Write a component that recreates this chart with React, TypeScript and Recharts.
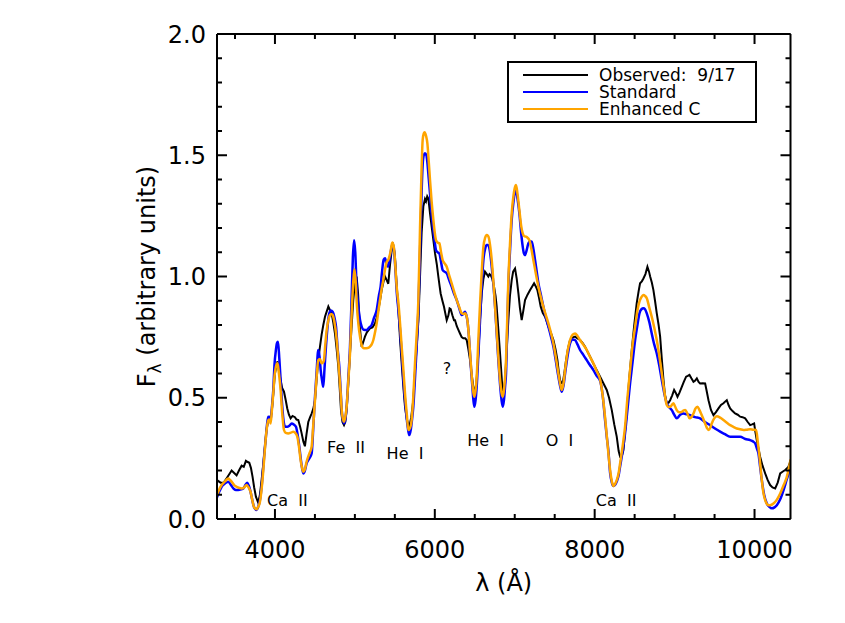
import React from 'react';
import { LineChart, Line, XAxis, YAxis, ReferenceDot, Legend } from 'recharts';

// Observed spectrum (9/17): [wavelength Å, flux]
const observed: [number, number][] = [
  [3275,0.16],[3320,0.15],[3360,0.15],[3400,0.17],[3458,0.20],[3490,0.19],[3520,0.18],[3550,0.20],[3583,0.22],[3610,0.215],
  [3637,0.24],[3660,0.235],[3679,0.232],[3700,0.21],[3720,0.174],[3740,0.13],[3762,0.092],[3791,0.067],[3812,0.10],[3833,0.16],
  [3855,0.23],[3875,0.30],[3895,0.37],[3917,0.408],[3940,0.42],[3958,0.435],[3980,0.52],[4000,0.60],[4020,0.635],[4033,0.65],
  [4050,0.61],[4071,0.573],[4090,0.54],[4113,0.525],[4135,0.49],[4154,0.456],[4175,0.43],[4196,0.415],[4220,0.425],[4250,0.42],
  [4270,0.41],[4292,0.408],[4315,0.38],[4334,0.353],[4355,0.32],[4375,0.30],[4395,0.35],[4417,0.40],[4440,0.42],[4459,0.435],
  [4480,0.455],[4501,0.49],[4520,0.57],[4542,0.655],[4563,0.71],[4584,0.76],[4605,0.80],[4626,0.834],[4647,0.855],[4668,0.876],
  [4690,0.86],[4709,0.848],[4730,0.81],[4751,0.765],[4772,0.70],[4793,0.628],[4810,0.54],[4826,0.45],[4845,0.40],[4864,0.387],
  [4880,0.40],[4897,0.45],[4918,0.56],[4939,0.683],[4960,0.80],[4980,0.903],[5000,0.97],[5022,1.0],[5040,0.93],[5060,0.80],
  [5085,0.71],[5105,0.73],[5126,0.752],[5150,0.77],[5189,0.786],[5220,0.79],[5252,0.807],[5273,0.83],[5293,0.862],[5314,0.90],
  [5335,0.944],[5356,0.975],[5377,1.0],[5398,0.985],[5418,0.97],[5440,1.05],[5465,1.12],[5480,1.13],[5500,1.09],[5520,0.98],
  [5545,0.86],[5565,0.74],[5590,0.62],[5610,0.53],[5627,0.463],[5650,0.41],[5681,0.38],[5705,0.42],[5731,0.49],[5750,0.60],
  [5773,0.71],[5795,0.82],[5815,1.0],[5835,1.18],[5857,1.29],[5877,1.32],[5890,1.31],[5905,1.33],[5920,1.32],[5940,1.26],
  [5961,1.205],[5982,1.15],[6003,1.095],[6025,1.05],[6044,1.0],[6060,0.96],[6073,0.93],[6095,0.90],[6115,0.875],[6130,0.85],
  [6149,0.82],[6170,0.84],[6185,0.868],[6199,0.865],[6220,0.84],[6240,0.82],[6253,0.82],[6275,0.795],[6295,0.78],[6315,0.765],
  [6336,0.75],[6357,0.745],[6380,0.745],[6399,0.738],[6420,0.70],[6441,0.655],[6460,0.60],[6482,0.545],[6503,0.52],[6520,0.56],
  [6545,0.683],[6565,0.82],[6587,0.93],[6608,0.99],[6628,1.02],[6650,1.01],[6670,1.0],[6685,1.01],[6699,1.006],[6720,0.99],
  [6741,0.958],[6760,0.92],[6774,0.875],[6795,0.78],[6816,0.683],[6835,0.59],[6850,0.518],[6865,0.53],[6879,0.573],[6900,0.70],
  [6920,0.82],[6940,0.92],[6962,0.985],[6980,1.02],[7004,1.033],[7025,0.99],[7046,0.93],[7065,0.87],[7087,0.82],[7108,0.86],
  [7129,0.903],[7160,0.925],[7192,0.944],[7220,0.96],[7242,0.972],[7262,0.96],[7283,0.944],[7305,0.91],[7325,0.875],[7350,0.85],
  [7379,0.834],[7400,0.815],[7421,0.793],[7450,0.77],[7484,0.738],[7510,0.70],[7534,0.655],[7550,0.61],[7567,0.573],[7585,0.56],
  [7600,0.559],[7620,0.60],[7642,0.655],[7665,0.70],[7692,0.738],[7720,0.748],[7755,0.752],[7785,0.745],[7817,0.738],[7850,0.725],
  [7880,0.71],[7910,0.69],[7943,0.669],[7985,0.64],[8026,0.614],[8068,0.587],[8109,0.56],[8151,0.532],[8180,0.50],[8214,0.449],
  [8245,0.39],[8276,0.34],[8300,0.28],[8318,0.257],[8340,0.26],[8360,0.284],[8380,0.36],[8401,0.435],[8430,0.57],[8464,0.697],
  [8495,0.80],[8526,0.89],[8550,0.94],[8568,0.972],[8590,0.98],[8610,0.992],[8635,1.01],[8660,1.04],[8680,1.02],[8694,1.0],
  [8715,0.975],[8735,0.944],[8755,0.90],[8777,0.848],[8800,0.80],[8819,0.752],[8840,0.66],[8861,0.573],[8880,0.51],[8902,0.477],
  [8925,0.48],[8944,0.49],[8970,0.51],[8994,0.532],[9015,0.52],[9036,0.504],[9060,0.52],[9090,0.545],[9115,0.565],[9144,0.587],
  [9165,0.59],[9186,0.594],[9210,0.58],[9236,0.566],[9255,0.57],[9278,0.58],[9300,0.565],[9319,0.559],[9350,0.56],[9382,0.559],
  [9400,0.53],[9424,0.49],[9455,0.45],[9486,0.428],[9515,0.44],[9549,0.456],[9580,0.47],[9611,0.477],[9635,0.485],[9653,0.49],
  [9675,0.47],[9695,0.456],[9725,0.445],[9757,0.435],[9790,0.43],[9820,0.422],[9850,0.42],[9883,0.415],[9915,0.40],[9945,0.387],
  [9970,0.39],[9995,0.394],[10010,0.36],[10028,0.325],[10050,0.29],[10070,0.257],[10100,0.22],[10133,0.188],[10165,0.16],[10195,0.14],
  [10225,0.13],[10258,0.126],[10290,0.15],[10321,0.188],[10350,0.195],[10383,0.202],[10410,0.21],[10425,0.216],[10450,0.24],
];

// Standard model
const standard: [number, number][] = [
  [3275,0.09],[3300,0.11],[3333,0.133],[3370,0.145],[3416,0.154],[3450,0.14],[3479,0.126],[3510,0.12],[3541,0.12],[3575,0.122],
  [3604,0.126],[3630,0.14],[3654,0.15],[3675,0.135],[3695,0.112],[3715,0.08],[3737,0.05],[3770,0.037],[3790,0.05],[3812,0.078],
  [3835,0.14],[3854,0.215],[3870,0.28],[3887,0.34],[3905,0.40],[3917,0.422],[3930,0.42],[3946,0.408],[3962,0.46],[3979,0.532],
  [3995,0.64],[4012,0.697],[4025,0.725],[4038,0.731],[4055,0.66],[4071,0.573],[4090,0.47],[4113,0.394],[4130,0.38],[4154,0.38],
  [4180,0.385],[4209,0.394],[4235,0.39],[4263,0.38],[4285,0.345],[4305,0.298],[4330,0.23],[4355,0.188],[4375,0.20],[4396,0.229],
  [4430,0.25],[4459,0.27],[4480,0.38],[4501,0.504],[4520,0.60],[4542,0.697],[4558,0.67],[4572,0.614],[4590,0.57],[4605,0.545],
  [4620,0.62],[4638,0.711],[4660,0.80],[4680,0.848],[4700,0.86],[4722,0.855],[4745,0.83],[4764,0.793],[4785,0.70],[4805,0.628],
  [4822,0.53],[4839,0.435],[4864,0.394],[4880,0.41],[4897,0.463],[4918,0.58],[4939,0.711],[4958,0.90],[4975,1.08],[4990,1.15],
  [5005,1.10],[5020,0.97],[5043,0.876],[5065,0.82],[5085,0.793],[5110,0.78],[5147,0.779],[5180,0.79],[5210,0.80],[5240,0.83],
  [5273,0.862],[5300,0.92],[5322,0.958],[5340,1.02],[5360,1.07],[5378,1.075],[5395,1.05],[5415,1.04],[5440,1.08],[5465,1.13],
  [5485,1.12],[5505,1.04],[5525,0.93],[5545,0.86],[5565,0.78],[5590,0.66],[5610,0.56],[5627,0.49],[5650,0.41],[5670,0.36],
  [5681,0.346],[5700,0.37],[5715,0.41],[5731,0.463],[5752,0.58],[5773,0.71],[5795,0.87],[5815,1.10],[5835,1.35],[5848,1.46],
  [5862,1.50],[5877,1.508],[5895,1.50],[5907,1.47],[5925,1.40],[5940,1.343],[5960,1.26],[5982,1.19],[6000,1.14],[6015,1.109],
  [6035,1.10],[6057,1.095],[6078,1.06],[6098,1.027],[6120,1.02],[6149,1.013],[6180,0.985],[6211,0.958],[6240,0.93],[6274,0.903],
  [6305,0.87],[6336,0.841],[6355,0.845],[6378,0.855],[6395,0.84],[6407,0.82],[6425,0.76],[6441,0.683],[6455,0.61],[6470,0.545],
  [6483,0.49],[6495,0.463],[6510,0.49],[6524,0.545],[6545,0.68],[6566,0.82],[6587,0.96],[6608,1.068],[6630,1.115],[6649,1.13],
  [6665,1.13],[6678,1.123],[6695,1.09],[6712,1.04],[6735,0.96],[6754,0.875],[6775,0.76],[6795,0.655],[6815,0.56],[6835,0.49],
  [6850,0.463],[6865,0.49],[6880,0.55],[6891,0.60],[6905,0.77],[6920,0.958],[6940,1.10],[6962,1.233],[6985,1.31],[7000,1.345],
  [7016,1.357],[7035,1.32],[7058,1.26],[7080,1.18],[7100,1.123],[7115,1.095],[7129,1.088],[7150,1.11],[7171,1.137],[7192,1.145],
  [7213,1.144],[7235,1.11],[7254,1.068],[7275,1.02],[7296,0.972],[7330,0.92],[7358,0.875],[7390,0.83],[7421,0.793],[7455,0.75],
  [7484,0.71],[7515,0.65],[7546,0.587],[7570,0.545],[7588,0.525],[7610,0.55],[7630,0.60],[7660,0.67],[7692,0.724],[7725,0.74],
  [7755,0.738],[7785,0.72],[7817,0.697],[7860,0.676],[7901,0.655],[7940,0.635],[7984,0.614],[8025,0.59],[8068,0.57],[8100,0.51],
  [8130,0.408],[8151,0.34],[8172,0.28],[8193,0.19],[8215,0.15],[8234,0.136],[8255,0.14],[8276,0.154],[8300,0.18],[8318,0.216],
  [8350,0.28],[8380,0.353],[8410,0.45],[8443,0.559],[8475,0.65],[8506,0.738],[8535,0.80],[8560,0.848],[8585,0.865],[8610,0.869],
  [8630,0.865],[8652,0.848],[8685,0.81],[8714,0.765],[8745,0.72],[8777,0.683],[8810,0.63],[8840,0.573],[8870,0.52],[8902,0.477],
  [8935,0.46],[8965,0.449],[8995,0.43],[9027,0.415],[9070,0.43],[9111,0.435],[9150,0.432],[9194,0.428],[9255,0.42],[9319,0.415],
  [9380,0.40],[9444,0.387],[9510,0.372],[9570,0.36],[9630,0.35],[9695,0.339],[9760,0.339],[9820,0.339],[9885,0.33],[9945,0.325],
  [9980,0.32],[10008,0.312],[10030,0.29],[10049,0.27],[10070,0.215],[10091,0.16],[10120,0.10],[10154,0.064],[10185,0.05],[10216,0.044],
  [10250,0.048],[10279,0.057],[10320,0.08],[10363,0.119],[10400,0.16],[10425,0.188],[10450,0.23],
];

// Enhanced C model
const enhanced: [number, number][] = [
  [3275,0.10],[3300,0.12],[3333,0.14],[3375,0.155],[3416,0.167],[3440,0.16],[3458,0.154],[3490,0.14],[3520,0.133],[3555,0.128],
  [3583,0.126],[3615,0.13],[3645,0.14],[3670,0.13],[3695,0.112],[3715,0.08],[3737,0.05],[3770,0.04],[3790,0.05],[3812,0.07],
  [3835,0.13],[3854,0.20],[3870,0.27],[3887,0.34],[3905,0.39],[3917,0.408],[3930,0.41],[3946,0.394],[3962,0.45],[3979,0.518],
  [3995,0.59],[4012,0.628],[4033,0.642],[4050,0.60],[4071,0.532],[4090,0.44],[4113,0.367],[4135,0.355],[4167,0.353],[4200,0.356],
  [4230,0.36],[4255,0.355],[4280,0.34],[4300,0.30],[4321,0.243],[4340,0.21],[4355,0.195],[4375,0.205],[4396,0.236],[4430,0.27],
  [4459,0.298],[4480,0.39],[4501,0.49],[4520,0.58],[4542,0.655],[4562,0.66],[4584,0.642],[4600,0.645],[4613,0.655],[4630,0.72],
  [4647,0.779],[4668,0.82],[4689,0.841],[4705,0.845],[4722,0.841],[4745,0.81],[4764,0.765],[4785,0.69],[4805,0.60],[4822,0.52],
  [4839,0.435],[4864,0.401],[4880,0.42],[4897,0.463],[4918,0.57],[4939,0.683],[4960,0.85],[4980,0.98],[4995,1.03],[5010,0.98],
  [5025,0.88],[5043,0.807],[5065,0.75],[5085,0.717],[5105,0.705],[5126,0.704],[5160,0.705],[5189,0.711],[5210,0.72],[5231,0.738],
  [5252,0.77],[5273,0.807],[5295,0.86],[5314,0.903],[5335,0.95],[5356,0.986],[5378,1.03],[5398,1.06],[5420,1.07],[5445,1.10],
  [5468,1.14],[5488,1.12],[5505,1.05],[5525,0.95],[5545,0.89],[5565,0.807],[5590,0.69],[5610,0.60],[5627,0.518],[5650,0.43],
  [5669,0.367],[5690,0.375],[5710,0.408],[5730,0.50],[5752,0.642],[5773,0.76],[5794,0.90],[5815,1.20],[5835,1.45],[5848,1.563],
  [5862,1.59],[5873,1.595],[5890,1.58],[5907,1.549],[5925,1.47],[5940,1.398],[5960,1.31],[5982,1.233],[6000,1.18],[6015,1.15],
  [6035,1.14],[6057,1.137],[6078,1.10],[6098,1.068],[6120,1.055],[6149,1.04],[6180,1.005],[6211,0.972],[6240,0.94],[6274,0.903],
  [6305,0.875],[6336,0.848],[6360,0.845],[6378,0.848],[6395,0.84],[6407,0.82],[6425,0.76],[6441,0.683],[6455,0.62],[6470,0.559],
  [6483,0.52],[6495,0.504],[6510,0.53],[6524,0.587],[6545,0.74],[6566,0.889],[6587,1.02],[6608,1.123],[6630,1.16],[6649,1.171],
  [6665,1.168],[6678,1.157],[6695,1.12],[6712,1.068],[6735,0.97],[6754,0.875],[6775,0.77],[6795,0.669],[6815,0.58],[6835,0.52],
  [6850,0.504],[6865,0.53],[6880,0.59],[6891,0.655],[6905,0.81],[6920,0.985],[6940,1.13],[6962,1.26],[6985,1.335],[7000,1.365],
  [7016,1.377],[7035,1.34],[7058,1.274],[7080,1.21],[7100,1.178],[7120,1.166],[7142,1.164],[7165,1.158],[7183,1.15],[7210,1.11],
  [7233,1.068],[7265,1.01],[7296,0.958],[7330,0.91],[7358,0.875],[7390,0.84],[7421,0.807],[7455,0.765],[7484,0.724],[7515,0.665],
  [7546,0.60],[7570,0.555],[7588,0.532],[7610,0.56],[7630,0.614],[7660,0.69],[7692,0.738],[7725,0.76],[7755,0.765],[7785,0.755],
  [7817,0.738],[7860,0.718],[7901,0.697],[7940,0.67],[7984,0.642],[8025,0.61],[8068,0.575],[8100,0.51],[8130,0.42],[8151,0.345],
  [8172,0.27],[8193,0.202],[8215,0.155],[8234,0.136],[8255,0.145],[8276,0.16],[8300,0.19],[8318,0.229],[8350,0.30],[8380,0.38],
  [8410,0.50],[8443,0.614],[8475,0.72],[8506,0.793],[8535,0.86],[8560,0.896],[8585,0.915],[8610,0.924],[8630,0.92],[8652,0.91],
  [8685,0.87],[8714,0.834],[8745,0.79],[8777,0.738],[8810,0.67],[8840,0.60],[8870,0.53],[8902,0.47],[8925,0.462],[8944,0.463],
  [8965,0.47],[8986,0.477],[9005,0.465],[9027,0.449],[9060,0.44],[9090,0.442],[9115,0.448],[9132,0.449],[9160,0.435],[9186,0.415],
  [9210,0.42],[9236,0.435],[9260,0.455],[9286,0.463],[9310,0.45],[9340,0.428],[9362,0.41],[9382,0.394],[9405,0.375],[9424,0.367],
  [9445,0.375],[9465,0.394],[9495,0.415],[9528,0.424],[9570,0.418],[9611,0.408],[9650,0.398],[9695,0.387],[9735,0.38],[9778,0.373],
  [9820,0.37],[9862,0.367],[9900,0.368],[9945,0.37],[9985,0.368],[10020,0.367],[10040,0.32],[10062,0.257],[10091,0.16],[10110,0.11],
  [10133,0.078],[10155,0.062],[10174,0.057],[10205,0.058],[10237,0.064],[10280,0.08],[10321,0.105],[10365,0.14],[10404,0.174],[10430,0.21],
  [10450,0.245],
];

const xDomain: [number, number] = [3275, 10450];
const yDomain: [number, number] = [0, 2];
const xTicks = [3500, 4000, 4500, 5000, 5500, 6000, 6500, 7000, 7500, 8000, 8500, 9000, 9500, 10000];
const xMajor = [4000, 6000, 8000, 10000];
const yTicks = [0, 0.1, 0.2, 0.3, 0.4, 0.5, 0.6, 0.7, 0.8, 0.9, 1.0, 1.1, 1.2, 1.3, 1.4, 1.5, 1.6, 1.7, 1.8, 1.9, 2.0];
const yMajor = [0, 0.5, 1.0, 1.5, 2.0];

const seriesNames = ['Observed:  9/17', 'Standard', 'Enhanced C'];
const seriesColors = ['#000000', '#0000ff', '#ffa500'];

const annotations = [
  { text: 'Ca  II', wave: 4156, flux: 0.076 },
  { text: 'Fe  II', wave: 4889, flux: 0.295 },
  { text: 'He  I', wave: 5627, flux: 0.27 },
  { text: '?', wave: 6153, flux: 0.62 },
  { text: 'He  I', wave: 6635, flux: 0.326 },
  { text: 'O  I', wave: 7561, flux: 0.326 },
  { text: 'Ca  II', wave: 8268, flux: 0.076 },
];

const toRows = (pts: [number, number][]) => pts.map(([w, f]) => ({ w, f }));
const obsData = toRows(observed);
const stdData = toRows(standard);
const enhData = toRows(enhanced);

const FONT = '"DejaVu Sans", "Liberation Sans", Arial, sans-serif';
const isMajorX = (v: number) => xMajor.some((m) => Math.abs(m - v) < 1e-6);
const isMajorY = (v: number) => yMajor.some((m) => Math.abs(m - v) < 1e-6);
const MAJ = 10;
const MIN = 5;
const TICK_FONT = 24;

const BottomTick = (p: any) => {
  const v = p.payload.value;
  const major = isMajorX(v);
  return (
    <g>
      <line x1={p.x} x2={p.x} y1={p.y} y2={p.y - (major ? MAJ : MIN)} stroke="#000" strokeWidth={2} />
      {major && (
        <text x={p.x} y={p.y + 39} textAnchor="middle" fontSize={TICK_FONT} fontFamily={FONT} fill="#000">
          {v}
        </text>
      )}
    </g>
  );
};

const TopTick = (p: any) => {
  const major = isMajorX(p.payload.value);
  return <line x1={p.x} x2={p.x} y1={p.y} y2={p.y + (major ? MAJ : MIN)} stroke="#000" strokeWidth={2} />;
};

const LeftTick = (p: any) => {
  const v = p.payload.value;
  const major = isMajorY(v);
  return (
    <g>
      <line x1={p.x} x2={p.x + (major ? MAJ : MIN)} y1={p.y} y2={p.y} stroke="#000" strokeWidth={2} />
      {major && (
        <text x={p.x - 11} y={p.y} dy="0.36em" textAnchor="end" fontSize={TICK_FONT} fontFamily={FONT} fill="#000">
          {Number(v).toFixed(1)}
        </text>
      )}
    </g>
  );
};

const RightTick = (p: any) => {
  const major = isMajorY(p.payload.value);
  return <line x1={p.x} x2={p.x - (major ? MAJ : MIN)} y1={p.y} y2={p.y} stroke="#000" strokeWidth={2} />;
};

const YTitle = (props: any) => {
  const vb = props.viewBox || {};
  const cx = vb.x - 61;
  const cy = vb.y + vb.height / 2;
  return (
    <text x={cx} y={cy} transform={`rotate(-90 ${cx} ${cy})`} textAnchor="middle" fontSize={TICK_FONT} fontFamily={FONT} fill="#000">
      F<tspan fontSize={17} dy={6}>λ</tspan>
      <tspan dy={-6}> (arbitrary units)</tspan>
    </text>
  );
};

const XTitle = (props: any) => {
  const vb = props.viewBox || {};
  const cx = vb.x + vb.width / 2;
  const cy = vb.y + 72;
  return (
    <text x={cx} y={cy} textAnchor="middle" fontSize={TICK_FONT} fontFamily={FONT} fill="#000">
      λ (Å)
    </text>
  );
};

const LegendBox = () => (
  <svg width={250} height={62} style={{ display: 'block' }}>
    <rect x={1} y={1} width={248} height={60} fill="#fff" stroke="#000" strokeWidth={2} />
    {seriesNames.map((name, i) => (
      <g key={name}>
        <line x1={16} x2={81} y1={14 + 17 * i} y2={14 + 17 * i} stroke={seriesColors[i]} strokeWidth={2} />
        <text x={92} y={14 + 17 * i} dy="0.36em" fontSize={17} fontFamily={FONT} fill="#000" style={{ whiteSpace: 'pre' }}>
          {name}
        </text>
      </g>
    ))}
  </svg>
);

export default function App() {
  return (
    <LineChart width={829} height={607} margin={{ top: 25, right: 45.5, bottom: 95, left: 208 }}>
      <XAxis
        xAxisId="b"
        type="number"
        dataKey="w"
        domain={xDomain}
        allowDataOverflow
        ticks={xTicks}
        interval={0}
        height={1}
        tickSize={0}
        tickMargin={0}
        tickLine={false}
        tick={(p: any) => <BottomTick {...p} />}
        axisLine={{ stroke: '#000', strokeWidth: 2 }}
        label={(p: any) => <XTitle {...p} />}
      />
      <XAxis
        xAxisId="t"
        orientation="top"
        type="number"
        dataKey="w"
        domain={xDomain}
        allowDataOverflow
        ticks={xTicks}
        interval={0}
        height={1}
        tickSize={0}
        tickMargin={0}
        tickLine={false}
        tick={(p: any) => <TopTick {...p} />}
        axisLine={{ stroke: '#000', strokeWidth: 2 }}
      />
      <YAxis
        yAxisId="l"
        type="number"
        domain={yDomain}
        allowDataOverflow
        ticks={yTicks}
        interval={0}
        width={1}
        tickSize={0}
        tickMargin={0}
        tickLine={false}
        tick={(p: any) => <LeftTick {...p} />}
        axisLine={{ stroke: '#000', strokeWidth: 2 }}
        label={(p: any) => <YTitle {...p} />}
      />
      <YAxis
        yAxisId="r"
        orientation="right"
        type="number"
        domain={yDomain}
        allowDataOverflow
        ticks={yTicks}
        interval={0}
        width={1}
        tickSize={0}
        tickMargin={0}
        tickLine={false}
        tick={(p: any) => <RightTick {...p} />}
        axisLine={{ stroke: '#000', strokeWidth: 2 }}
      />
      <Legend
        layout="vertical"
        align="center"
        verticalAlign="middle"
        wrapperStyle={{ left: 499, top: 53, width: 250, height: 62 }}
        content={() => <LegendBox />}
      />
      <Line xAxisId="b" yAxisId="l" data={obsData} dataKey="f" name={seriesNames[0]} type="linear" stroke={seriesColors[0]} strokeWidth={2} dot={false} isAnimationActive={false} />
      <Line xAxisId="b" yAxisId="l" data={stdData} dataKey="f" name={seriesNames[1]} type="monotone" stroke={seriesColors[1]} strokeWidth={2.5} dot={false} isAnimationActive={false} />
      <Line xAxisId="b" yAxisId="l" data={enhData} dataKey="f" name={seriesNames[2]} type="monotone" stroke={seriesColors[2]} strokeWidth={2.5} dot={false} isAnimationActive={false} />
      {annotations.map((a, i) => (
        <ReferenceDot
          key={i}
          xAxisId="b"
          yAxisId="l"
          x={a.wave}
          y={a.flux}
          r={1}
          fill="none"
          stroke="none"
          label={(p: any) => {
            const vb = p.viewBox || {};
            return (
              <text x={vb.x + (vb.width || 0) / 2} y={vb.y + (vb.height || 0) / 2} dy="0.36em" textAnchor="middle" fontSize={16} fontFamily={FONT} fill="#000" style={{ whiteSpace: 'pre' }}>
                {a.text}
              </text>
            );
          }}
        />
      ))}
    </LineChart>
  );
}
